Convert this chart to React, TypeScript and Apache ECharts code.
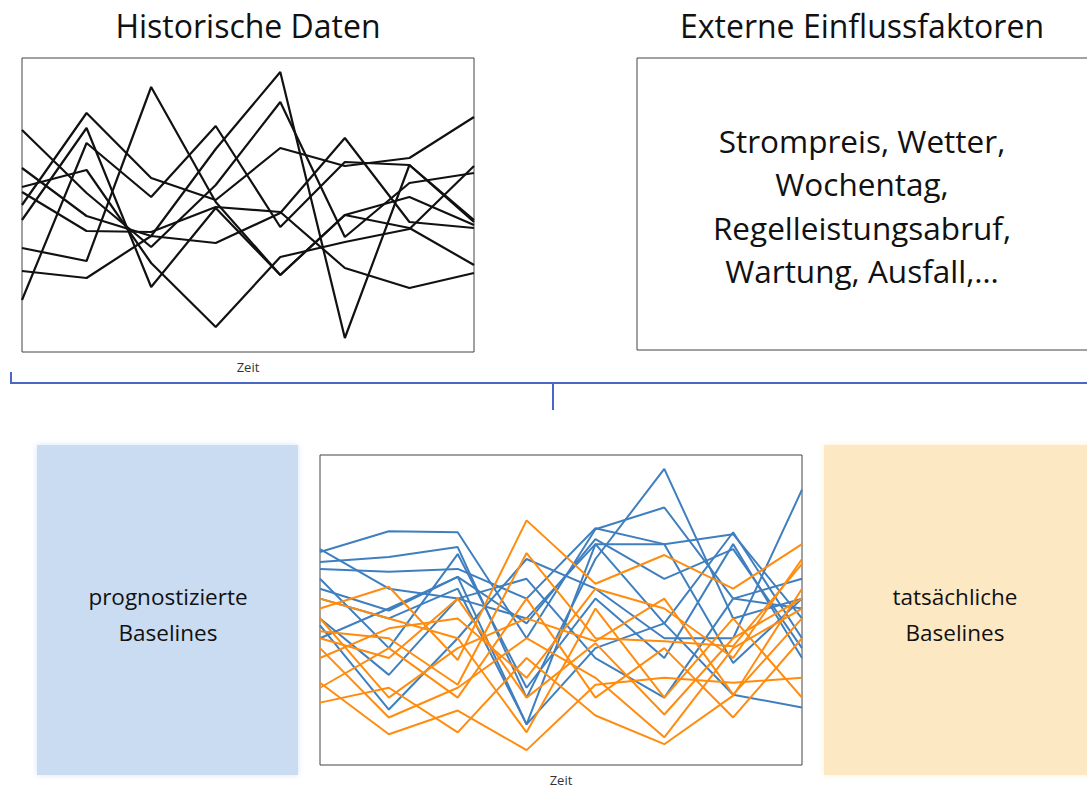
import React, { useEffect, useRef } from "react";
import * as echarts from "echarts";

// time steps (hidden axis categories)
const steps = ["t1", "t2", "t3", "t4", "t5", "t6", "t7", "t8"];

// Historical data (black lines), arbitrary load units
const hist1 = [104, 91, 265, 150, 77, 137, 155, 127];
const hist2 = [184, 136, 116, 203, 280, 14, 187, 130];
const hist3 = [222, 159, 105, 167, 250, 115, 169, 179];
const hist4 = [165, 182, 89, 25, 95, 110, 123, 186];
const hist5 = [160, 121, 120, 145, 140, 84, 64, 79];
const hist6 = [81, 74, 116, 109, 139, 214, 130, 124];
const hist7 = [52, 209, 155, 226, 125, 190, 187, 132];
const hist8 = [147, 239, 174, 152, 204, 186, 194, 235];
const hist9 = [132, 224, 65, 144, 77, 137, 124, 87];
const histSeries = [hist1, hist2, hist3, hist4, hist5, hist6, hist7, hist8, hist9];

// Forecast baselines (blue)
const fc1 = [215, 236, 235, 128, 238, 260, 168, 158];
const fc2 = [205, 210, 220, 68, 208, 299, 148, 168];
const fc3 = [198, 195, 198, 168, 239, 223, 233, 148];
const fc4 = [178, 156, 190, 41, 223, 143, 235, 128];
const fc5 = [148, 91, 168, 148, 223, 223, 103, 168];
const fc6 = [141, 56, 128, 208, 178, 128, 128, 278];
const fc7 = [168, 148, 178, 41, 118, 143, 71, 58];
const fc8 = [128, 158, 190, 143, 228, 188, 218, 118];
const fc9 = [188, 118, 213, 78, 168, 108, 223, 108];
const fc10 = [218, 178, 168, 188, 108, 68, 168, 188];
const forecastSeries = [fc1, fc2, fc3, fc4, fc5, fc6, fc7, fc8, fc9, fc10];

// Actual baselines (orange)
const act1 = [158, 180, 106, 247, 183, 212, 178, 223];
const act2 = [135, 128, 81, 214, 128, 125, 120, 203];
const act3 = [83, 31, 55, 15, 81, 88, 83, 88];
const act4 = [63, 78, 33, 108, 50, 21, 70, 178];
const act5 = [128, 108, 168, 68, 123, 51, 128, 168];
const act6 = [148, 68, 118, 148, 125, 168, 71, 148];
const act7 = [108, 138, 148, 88, 178, 158, 108, 208];
const act8 = [78, 118, 68, 168, 68, 118, 48, 128];
const act9 = [168, 148, 128, 33, 158, 68, 148, 68];
const act10 = [118, 48, 78, 128, 88, 28, 118, 158];
const actualSeries = [act1, act2, act3, act4, act5, act6, act7, act8, act9, act10];

const topTitles = ["Historische Daten", "Externe Einflussfaktoren"];
const factorLines = ["Strompreis, Wetter,", "Wochentag,", "Regelleistungsabruf,", "Wartung, Ausfall,…"];
const leftBoxLines = ["prognostizierte", "Baselines"];
const rightBoxLines = ["tatsächliche", "Baselines"];
const axisName = "Zeit";

const FONT = "'Open Sans', 'Noto Sans', sans-serif";

export default function App() {
  const ref = useRef<HTMLDivElement>(null);

  useEffect(() => {
    if (!ref.current) return;
    const chart = echarts.init(ref.current, undefined, { renderer: "svg" });

    const mkLine = (data: number[], idx: number, color: string, width: number, z: number) => ({
      type: "line",
      xAxisIndex: idx,
      yAxisIndex: idx,
      data,
      symbol: "none",
      silent: true,
      z,
      lineStyle: { color, width },
    });

    const series: any[] = [
      ...histSeries.map((d) => mkLine(d, 0, "#111111", 2.2, 3)),
      ...forecastSeries.map((d) => mkLine(d, 1, "#3f7fbf", 2, 3)),
      ...actualSeries.map((d) => mkLine(d, 1, "#ff8c0f", 2, 4)),
    ];

    const xAxisBase = {
      type: "category",
      data: steps,
      boundaryGap: false,
      axisLine: { show: false },
      axisTick: { show: false },
      axisLabel: { show: false },
      splitLine: { show: false },
      name: axisName,
      nameLocation: "middle",
      nameGap: 8,
      nameTextStyle: { fontSize: 13, color: "#333", fontFamily: FONT },
    };
    const yAxisBase = {
      type: "value",
      axisLine: { show: false },
      axisTick: { show: false },
      axisLabel: { show: false },
      splitLine: { show: false },
    };

    const txt = (text: string, x: number, y: number, size: number, z = 10) => ({
      type: "text",
      x,
      y,
      z,
      style: {
        text,
        fontSize: size,
        fontFamily: FONT,
        fill: "#111",
        align: "center",
        verticalAlign: "middle",
      },
    });

    chart.setOption({
      animation: false,
      backgroundColor: "#ffffff",
      grid: [
        { left: 22, top: 58, width: 452, height: 294, show: true, borderColor: "#444", borderWidth: 1, backgroundColor: "#fff" },
        { left: 320, top: 455, width: 482, height: 313, show: true, borderColor: "#444", borderWidth: 1, backgroundColor: "#fff" },
      ],
      xAxis: [
        { ...xAxisBase, gridIndex: 0 },
        { ...xAxisBase, gridIndex: 1 },
      ],
      yAxis: [
        { ...yAxisBase, gridIndex: 0, min: 0, max: 294 },
        { ...yAxisBase, gridIndex: 1, min: 0, max: 313 },
      ],
      series,
      graphic: [
        txt(topTitles[0], 248, 25, 32),
        txt(topTitles[1], 862, 25, 32),
        {
          type: "rect",
          shape: { x: 637, y: 58, width: 470, height: 292 },
          style: { fill: "#fff", stroke: "#444", lineWidth: 1 },
          z: 1,
        },
        ...factorLines.map((l, i) => txt(l, 862, 140 + i * 43.5, 31.5)),
        {
          type: "polyline",
          shape: { points: [[11, 372], [11, 383], [1087, 383]] },
          style: { stroke: "#4a67c8", lineWidth: 2, fill: "none" },
          z: 1,
        },
        {
          type: "line",
          shape: { x1: 553, y1: 383, x2: 553, y2: 410 },
          style: { stroke: "#4a67c8", lineWidth: 2 },
          z: 1,
        },
        {
          type: "rect",
          shape: { x: 37, y: 445, width: 261, height: 330 },
          style: { fill: "#c9dcf2", shadowBlur: 6, shadowColor: "#d6e4f5" },
          z: 0,
        },
        {
          type: "rect",
          shape: { x: 824, y: 445, width: 270, height: 330 },
          style: { fill: "#fde8c4", shadowBlur: 6, shadowColor: "#feefd6" },
          z: 0,
        },
        ...leftBoxLines.map((l, i) => txt(l, 168, 596 + i * 36, 22.5)),
        ...rightBoxLines.map((l, i) => txt(l, 955, 596 + i * 36, 22.5)),
      ],
    });

    return () => chart.dispose();
  }, []);

  return (
    <div
      ref={ref}
      style={{ position: "absolute", left: 0, top: 0, width: 1087, height: 787 }}
    />
  );
}
